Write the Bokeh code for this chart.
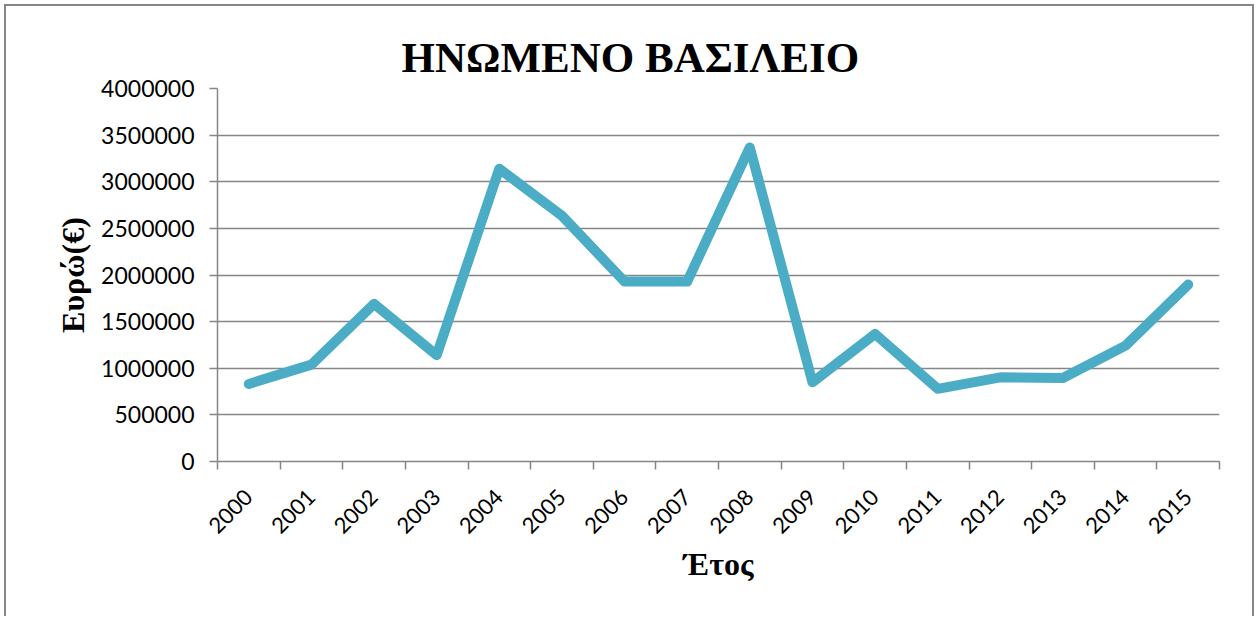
import math
from bokeh.plotting import figure
from bokeh.models import FixedTicker, Range1d, NumeralTickFormatter
from bokeh.embed import file_html
from bokeh.resources import INLINE

# ---- data ----
years = ["2000", "2001", "2002", "2003", "2004", "2005", "2006", "2007",
         "2008", "2009", "2010", "2011", "2012", "2013", "2014", "2015"]
values = [832000, 1039000, 1690000, 1140000, 3140000, 2636000, 1929000, 1930000,
          3368000, 850000, 1368000, 779000, 903000, 895000, 1243000, 1897000]
y_ticks = [0, 500000, 1000000, 1500000, 2000000, 2500000, 3000000, 3500000, 4000000]
title_text = "ΗΝΩΜΕΝΟ ΒΑΣΙΛΕΙΟ"
x_label = "Έτος"
y_label = "Ευρώ(€)"

GRAY = "#868686"
LINE = "#4BACC6"

n = len(years)
xs = [i + 0.5 for i in range(n)]

p = figure(width=1250, height=612, output_backend="svg", toolbar_location=None,
           x_range=Range1d(0, n), y_range=Range1d(0, y_ticks[-1]),
           min_border_left=211, min_border_top=82, min_border_right=37,
           min_border_bottom=157)
p.styles = {"margin-left": "4px", "margin-top": "4px",
            "border-left": "2px solid #868686", "border-top": "2px solid #868686",
            "border-right": "2px solid #868686"}
p.outline_line_color = None
p.background_fill_color = "white"
p.border_fill_color = "white"

p.line(xs, values, line_width=10, color=LINE, line_join="round", line_cap="round")

# grid
p.xgrid.visible = False
p.ygrid.ticker = FixedTicker(ticks=y_ticks)
p.ygrid.grid_line_color = GRAY
p.ygrid.grid_line_width = 1.5

# y axis
p.yaxis.ticker = FixedTicker(ticks=y_ticks)
p.yaxis.formatter = NumeralTickFormatter(format="0")
p.yaxis.axis_line_color = GRAY
p.yaxis.axis_line_width = 1.5
p.yaxis.major_tick_line_color = GRAY
p.yaxis.major_tick_line_width = 1.5
p.yaxis.major_tick_in = 0
p.yaxis.major_tick_out = 8
p.yaxis.minor_tick_line_color = None
p.yaxis.major_label_text_font = "Lato"
p.yaxis.major_label_text_font_size = "23px"
p.yaxis.major_label_text_color = "black"
p.yaxis.major_label_standoff = 15
p.yaxis.axis_label = y_label
p.yaxis.axis_label_text_font = "Liberation Serif"
p.yaxis.axis_label_text_font_style = "bold"
p.yaxis.axis_label_text_font_size = "32px"
p.yaxis.axis_label_text_color = "black"
p.yaxis.axis_label_standoff = 7

# x axis
p.xaxis.ticker = FixedTicker(ticks=xs, minor_ticks=list(range(n + 1)))
p.xaxis.major_label_overrides = {x: y for x, y in zip(xs, years)}
p.xaxis.axis_line_color = GRAY
p.xaxis.axis_line_width = 1.5
p.xaxis.major_tick_line_color = None
p.xaxis.major_tick_in = 0
p.xaxis.major_tick_out = 8
p.xaxis.minor_tick_line_color = GRAY
p.xaxis.minor_tick_line_width = 1.5
p.xaxis.minor_tick_in = 0
p.xaxis.minor_tick_out = 8
p.xaxis.major_label_orientation = math.pi / 4
p.xaxis.major_label_text_font = "Lato"
p.xaxis.major_label_text_font_size = "22px"
p.xaxis.major_label_text_color = "black"
p.xaxis.major_label_standoff = 24
p.xaxis.axis_label = x_label
p.xaxis.axis_label_text_font = "Liberation Serif"
p.xaxis.axis_label_text_font_style = "bold"
p.xaxis.axis_label_text_font_size = "32px"
p.xaxis.axis_label_text_color = "black"
p.xaxis.axis_label_standoff = 3

# title
p.title.text = title_text
p.title.text_font = "Liberation Serif"
p.title.text_font_style = "bold"
p.title.text_font_size = "43px"
p.title.text_color = "black"
p.title.align = "left"
p.title.offset = 184
p.title.standoff = 16

open("out.html", "w").write(file_html(p, INLINE))
